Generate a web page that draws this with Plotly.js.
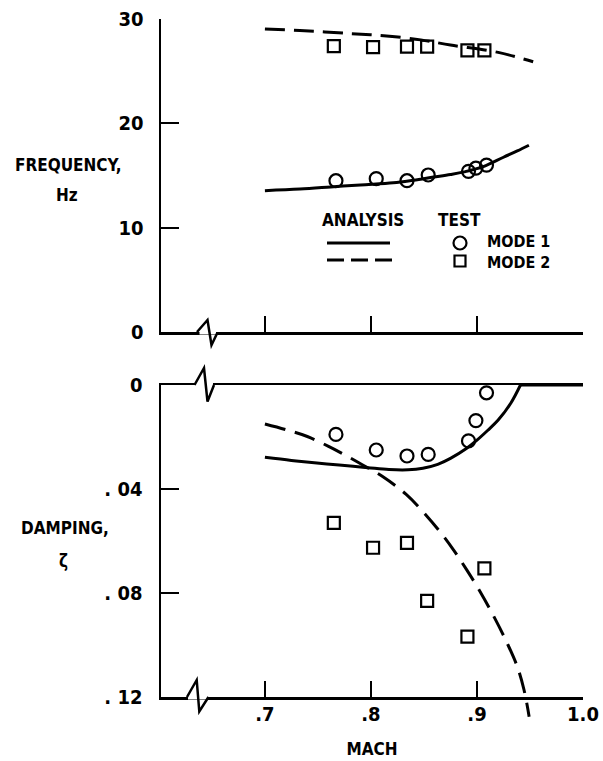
<!DOCTYPE html>
<html>
<head>
<meta charset="utf-8">
<script src="https://cdn.plot.ly/plotly-3.0.1.min.js"></script>
<style>html,body{margin:0;padding:0;background:#fff;}#chart{width:603px;height:761px;}</style>
</head>
<body>
<div id="chart"></div>
<script>
// ---- Data ----
// Test points (Mach)
const machTest1 = [0.767, 0.805, 0.834, 0.854, 0.892, 0.899, 0.909];
const machTest2 = [0.765, 0.802, 0.834, 0.853, 0.891, 0.907];
// Frequency, Hz (test)
const freqTest1 = [14.5, 14.7, 14.5, 15.05, 15.4, 15.7, 16.0];
const freqTest2 = [27.4, 27.3, 27.35, 27.35, 27.0, 27.0];
// Damping, zeta (test)
const dampTest1 = [0.019, 0.025, 0.0273, 0.0267, 0.0215, 0.0137, 0.003];
const dampTest2 = [0.053, 0.0626, 0.0607, 0.083, 0.0968, 0.0705];

// Analysis curves - frequency
const machFreqAn1 = [0.700, 0.733, 0.762, 0.790, 0.821, 0.840, 0.859, 0.875, 0.888, 0.906, 0.925, 0.938, 0.949];
const freqAn1     = [13.55, 13.7, 13.9, 14.1, 14.3, 14.55, 14.85, 15.1, 15.35, 15.85, 16.75, 17.35, 17.9];
const machFreqAn2 = [0.700, 0.733, 0.781, 0.812, 0.847, 0.875, 0.920, 0.953];
const freqAn2     = [29.05, 28.9, 28.6, 28.4, 28.0, 27.5, 26.8, 25.9];

// Analysis curves - damping
const machDampAn1 = [0.700, 0.725, 0.749, 0.770, 0.797, 0.817, 0.835, 0.849, 0.863, 0.875, 0.890, 0.900, 0.910, 0.920, 0.932, 0.941, null, 0.941, 1.000];
const dampAn1     = [0.0278, 0.0290, 0.0300, 0.0308, 0.0318, 0.0325, 0.0326, 0.0320, 0.0305, 0.0282, 0.0244, 0.0212, 0.0175, 0.0135, 0.0069, 0.0, null, 0.0, 0.0];
const machDampAn2 = [0.700, 0.720, 0.740, 0.760, 0.770, 0.789, 0.811, 0.833, 0.849, 0.865, 0.878, 0.8905, 0.903, 0.916, 0.9286, 0.938, 0.9444, 0.9492];
const dampAn2     = [0.0150, 0.0172, 0.0198, 0.0236, 0.0257, 0.0300, 0.0352, 0.0420, 0.0487, 0.0564, 0.0635, 0.0712, 0.0795, 0.0891, 0.0994, 0.1083, 0.1173, 0.1276];

// Axis ticks
const machTicks = [0.7, 0.8, 0.9, 1.0];
const machTickText = ['.7', '.8', '.9', '1.0'];
const freqTicks = [0, 10, 20, 30];
const freqTickText = ['0', '10', '20', '30'];
const dampTicks = [0, 0.04, 0.08, 0.12];
const dampTickText = ['0', '. 04', '. 08', '. 12'];

// ---- Layout geometry ----
const W = 603, H = 761;
const M = {l: 161, r: 20, t: 19, b: 30};
const PW = W - M.l - M.r, PH = H - M.t - M.b;
const px = x => (x - M.l) / PW;          // pixel -> paper x
const py = y => (H - M.b - y) / PH;      // pixel -> paper y
const FONT = "'DejaVu Sans Condensed', 'Liberation Sans Narrow', 'DejaVu Sans', sans-serif";
const TICKFONT = "'Liberation Sans Narrow', 'DejaVu Sans Condensed', 'DejaVu Sans', sans-serif";
const BLACK = '#000';

const topDom = [py(332), 1];
const botDom = [py(697), py(385)];
const extDom = [0, py(385)];
const dampRange = [0.12, 0];
const extMax = 0.12 * (H - M.b - 385) / (697 - 385);

const traces = [
  {x: machFreqAn1, y: freqAn1, xaxis: 'x', yaxis: 'y', mode: 'lines',
   line: {color: BLACK, width: 3, shape: 'spline'}, name: 'Analysis mode 1', hoverinfo: 'skip'},
  {x: machFreqAn2, y: freqAn2, xaxis: 'x', yaxis: 'y', mode: 'lines',
   line: {color: BLACK, width: 3, dash: '20px,9px', shape: 'spline'}, name: 'Analysis mode 2'},
  {x: machTest1, y: freqTest1, xaxis: 'x', yaxis: 'y', mode: 'markers',
   marker: {symbol: 'circle-open', size: 13, color: BLACK, line: {width: 2.2, color: BLACK}}, name: 'Test mode 1'},
  {x: machTest2, y: freqTest2, xaxis: 'x', yaxis: 'y', mode: 'markers',
   marker: {symbol: 'square-open', size: 12, color: BLACK, line: {width: 2.2, color: BLACK}}, name: 'Test mode 2'},

  {x: machDampAn1, y: dampAn1, xaxis: 'x2', yaxis: 'y2', mode: 'lines', connectgaps: false,
   line: {color: BLACK, width: 3, shape: 'spline'}, name: 'Analysis mode 1'},
  {x: machDampAn2, y: dampAn2, xaxis: 'x3', yaxis: 'y3', mode: 'lines',
   line: {color: BLACK, width: 3, dash: '21px,10px', shape: 'spline'}, name: 'Analysis mode 2'},
  {x: machTest1, y: dampTest1, xaxis: 'x2', yaxis: 'y2', mode: 'markers',
   marker: {symbol: 'circle-open', size: 13, color: BLACK, line: {width: 2.2, color: BLACK}}, name: 'Test mode 1'},
  {x: machTest2, y: dampTest2, xaxis: 'x2', yaxis: 'y2', mode: 'markers',
   marker: {symbol: 'square-open', size: 12, color: BLACK, line: {width: 2.2, color: BLACK}}, name: 'Test mode 2'}
];

const axCommon = {
  showline: true, linecolor: BLACK, linewidth: 2.5, showgrid: false, zeroline: false,
  ticks: 'inside', tickcolor: BLACK, tickwidth: 2, fixedrange: true,
  tickfont: {family: TICKFONT, size: 20, color: BLACK, weight: 'bold'}
};
const machRange = [0.602, 1.0];
const labelFont = {family: FONT, size: 17, color: BLACK, weight: 'bold'};

function label(x, y, text, anchor, size) {
  return {xref: 'paper', yref: 'paper', x: px(x), y: py(y), text: text, showarrow: false,
          xanchor: anchor || 'center', yanchor: 'middle', align: anchor || 'center', borderpad: 0,
          font: Object.assign({}, labelFont, size ? {size: size} : {})};
}

const layout = {
  width: W, height: H, margin: M, showlegend: false,
  paper_bgcolor: '#fff', plot_bgcolor: 'rgba(0,0,0,0)',
  font: labelFont,
  xaxis: Object.assign({}, axCommon, {domain: [0, 1], range: machRange, anchor: 'y',
    tickvals: machTicks, showticklabels: false, ticklen: 16}),
  yaxis: Object.assign({}, axCommon, {domain: topDom, range: [0, 30], anchor: 'x',
    tickvals: freqTicks, ticktext: freqTickText, ticklen: 18, ticklabelstandoff: 11}),
  xaxis2: Object.assign({}, axCommon, {domain: [0, 1], range: machRange, anchor: 'y2', mirror: true,
    tickvals: machTicks, ticktext: machTickText, ticklen: 16, ticklabelstandoff: -3,
    title: {text: 'MACH', font: labelFont, standoff: 19}}),
  yaxis2: Object.assign({}, axCommon, {domain: botDom, range: dampRange, anchor: 'x2',
    tickvals: dampTicks, ticktext: dampTickText, ticklen: 18, ticklabelstandoff: 12}),
  xaxis3: {domain: [0, 1], range: machRange, anchor: 'y3', visible: false, fixedrange: true},
  yaxis3: {domain: extDom, range: [extMax, 0], anchor: 'x3', visible: false, fixedrange: true},
  annotations: [
    label(68, 165, 'FREQUENCY,'),
    label(67, 195, 'Hz'),
    label(65, 528, 'DAMPING,'),
    label(63, 561, 'ζ'),
    label(363, 220, 'ANALYSIS'),
    label(459, 220, 'TEST'),
    label(486, 252, 'MODE 1<br>MODE 2', 'left', 16)
  ],
  shapes: [
    // legend samples
    {type: 'line', xref: 'paper', yref: 'paper', x0: px(327), x1: px(390), y0: py(243), y1: py(243), line: {color: BLACK, width: 3}},
    {type: 'line', xref: 'paper', yref: 'paper', x0: px(327), x1: px(392), y0: py(260), y1: py(260), line: {color: BLACK, width: 3, dash: '17px,7px'}},
    {type: 'circle', xref: 'paper', yref: 'paper', x0: px(453.5), x1: px(466.5), y0: py(249.5), y1: py(236.5), line: {color: BLACK, width: 2.2}},
    {type: 'rect', xref: 'paper', yref: 'paper', x0: px(454.5), x1: px(465.5), y0: py(266.5), y1: py(255.5), line: {color: BLACK, width: 2.2}},
    // axis breaks: white out the straight segment, then draw zigzag
    {type: 'line', xref: 'paper', yref: 'paper', x0: px(199.5), x1: px(216), y0: py(332), y1: py(332), line: {color: '#fff', width: 5}, layer: 'above'},
    {type: 'path', xref: 'paper', yref: 'paper', layer: 'above', line: {color: BLACK, width: 2.5},
     path: `M${px(197)},${py(332)} L${px(207.5)},${py(320)} L${px(211.5)},${py(345)} L${px(217.5)},${py(332.5)}`},
    {type: 'line', xref: 'paper', yref: 'paper', x0: px(196), x1: px(213), y0: py(385), y1: py(385), line: {color: '#fff', width: 5}, layer: 'above'},
    {type: 'path', xref: 'paper', yref: 'paper', layer: 'above', line: {color: BLACK, width: 2.5},
     path: `M${px(194.5)},${py(385)} L${px(204)},${py(368)} L${px(207.5)},${py(401.5)} L${px(214)},${py(385)}`},
    {type: 'line', xref: 'paper', yref: 'paper', x0: px(188), x1: px(208), y0: py(697), y1: py(697), line: {color: '#fff', width: 5}, layer: 'above'},
    {type: 'path', xref: 'paper', yref: 'paper', layer: 'above', line: {color: BLACK, width: 2.5},
     path: `M${px(187)},${py(697)} L${px(196.7)},${py(680)} L${px(199.3)},${py(711.5)} L${px(208.5)},${py(697)}`}
  ]
};

Plotly.newPlot('chart', traces, layout, {displayModeBar: false, staticPlot: true});
</script>
</body>
</html>
